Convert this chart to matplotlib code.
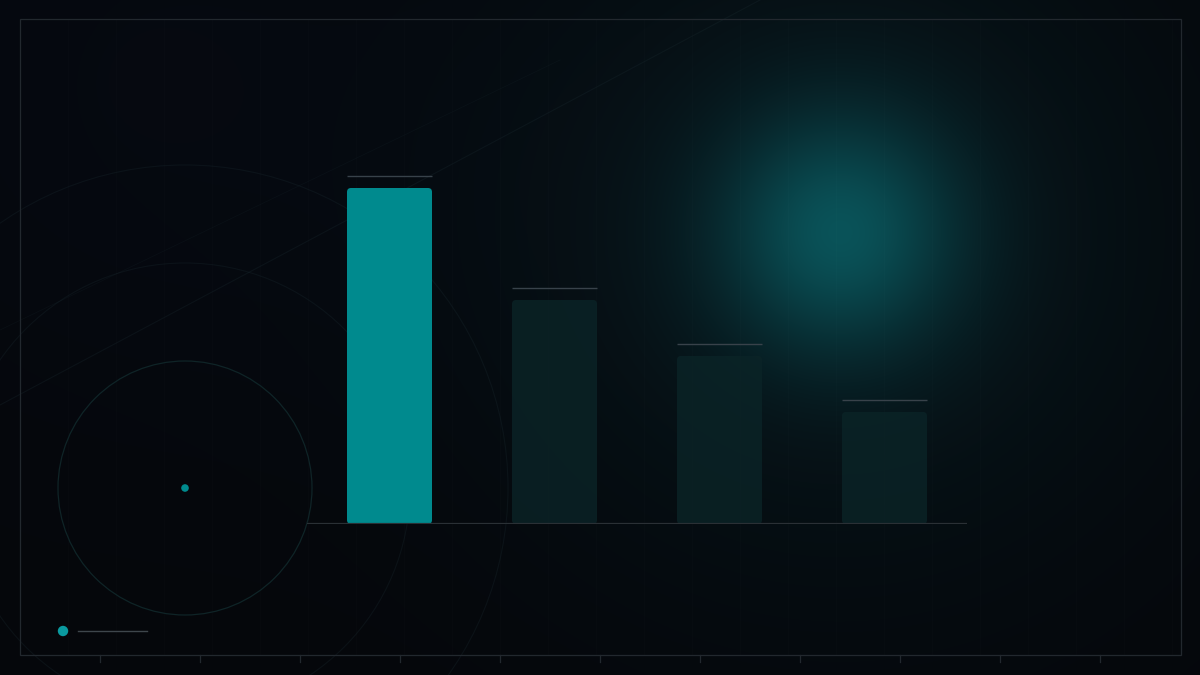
import numpy as np
import matplotlib
matplotlib.use("Agg")
import matplotlib.pyplot as plt
from matplotlib.patches import FancyBboxPatch, Circle, Rectangle

# ---- data ----
categories = ["A", "B", "C", "D"]
values = [60, 40, 30, 20]
highlight = [True, False, False, False]
xtick_positions_px = [100, 200, 300, 400, 500, 600, 700, 800, 900, 1000, 1100]

W, H = 1200, 675
BG = "#05070b"
TEAL = "#008a8e"
DARK_BAR = "#0b2427"

fig = plt.figure(figsize=(12, 6.75), dpi=100, facecolor=BG)

# ---- background layer in pixel coordinates ----
bg = fig.add_axes([0, 0, 1, 1])
bg.set_xlim(0, W)
bg.set_ylim(H, 0)
bg.axis("off")

yy, xx = np.mgrid[0:H, 0:W]
base = np.array([5, 7, 11], float) / 255
glow_col = np.array([9, 88, 93], float) / 255
mid_col = np.array([8, 34, 40], float) / 255
d2 = (xx - 840) ** 2 + (yy - 232) ** 2
g1 = np.exp(-d2 / (2 * 85.0 ** 2))
g2 = np.exp(-d2 / (2 * 240.0 ** 2))
img = base[None, None, :] * np.ones((H, W, 1))
img = img + (mid_col - base)[None, None, :] * (0.55 * g2)[..., None]
img = img + (glow_col - base)[None, None, :] * (0.75 * g1)[..., None]
tl = np.exp(-((xx - 150) ** 2 + (yy - 80) ** 2) / (2 * 260.0 ** 2))
img = img + np.array([1, 2, 5])[None, None, :] / 255 * tl[..., None]
img = np.clip(img, 0, 1)
bg.imshow(img, extent=(0, W, H, 0), aspect="auto", zorder=0, interpolation="bilinear")

# faint vertical grid columns
for gx in range(20, 1181, 48):
    bg.plot([gx, gx], [19, 655], color="white", alpha=0.010, lw=1, zorder=1)

# frame and ticks
bg.add_patch(Rectangle((20, 19), 1161, 636, fill=False, ec="#22282e", lw=0.9, zorder=2))
for tx in xtick_positions_px:
    bg.plot([tx, tx], [655, 662], color="#22282e", lw=0.9, zorder=2)

# decorative faint arcs and diagonal
for r in (225, 323):
    bg.add_patch(Circle((185, 488), r, fill=False, ec="#1a2a30", lw=0.8, alpha=0.3, zorder=1))
bg.plot([0, 760], [405, 0], color="#1a2a30", lw=0.8, alpha=0.3, zorder=1)
bg.plot([0, 560], [330, 60], color="#1a2a30", lw=0.6, alpha=0.2, zorder=1)

# radar circle
bg.add_patch(Circle((185, 488), 127, fill=False, ec="#0f2427", lw=0.9, zorder=2))
bg.add_patch(Circle((185, 488), 3.8, fc=TEAL, ec="none", zorder=3))

# legend-like marker
bg.add_patch(Circle((63, 631), 5.2, fc="#0a9aa0", ec="none", zorder=3))
bg.plot([78, 147], [631, 631], color="#3e464c", lw=1.0, zorder=3)

# ---- bar chart axes ----
px_per_unit_y = 5.6
left_px, right_px = 307, 967
base_px = 524
ymax = 65
ax = fig.add_axes([left_px / W, (H - base_px) / H, (right_px - left_px) / W,
                   ymax * px_per_unit_y / H])
ax.set_xlim(-0.5, len(categories) - 0.5)
ax.set_ylim(0, ymax)
ax.patch.set_alpha(0)
for s in ax.spines.values():
    s.set_visible(False)
ax.set_xticks([])
ax.set_yticks([])

bar_w = 85 / 165
px_x = 165.0
aspect = px_x / px_per_unit_y
rs = 4 / px_x
gap_units = 12 / px_per_unit_y
x = np.arange(len(categories))
for xi, v, hl in zip(x, values, highlight):
    fc = TEAL if hl else DARK_BAR
    alpha = 1.0 if hl else 0.8
    p = FancyBboxPatch((xi - bar_w / 2, 0), bar_w, v,
                       boxstyle=f"round,pad=0,rounding_size={rs}",
                       mutation_aspect=aspect, fc=fc, ec="none", alpha=alpha, zorder=3)
    ax.add_patch(p)
    ax.hlines(v + gap_units, xi - bar_w / 2, xi + bar_w / 2, color="#38424a", lw=1.0, zorder=3)

ax.axhline(0, color="#2a3035", lw=1.6, zorder=4)

fig.savefig("out.png", dpi=100, facecolor=BG)
